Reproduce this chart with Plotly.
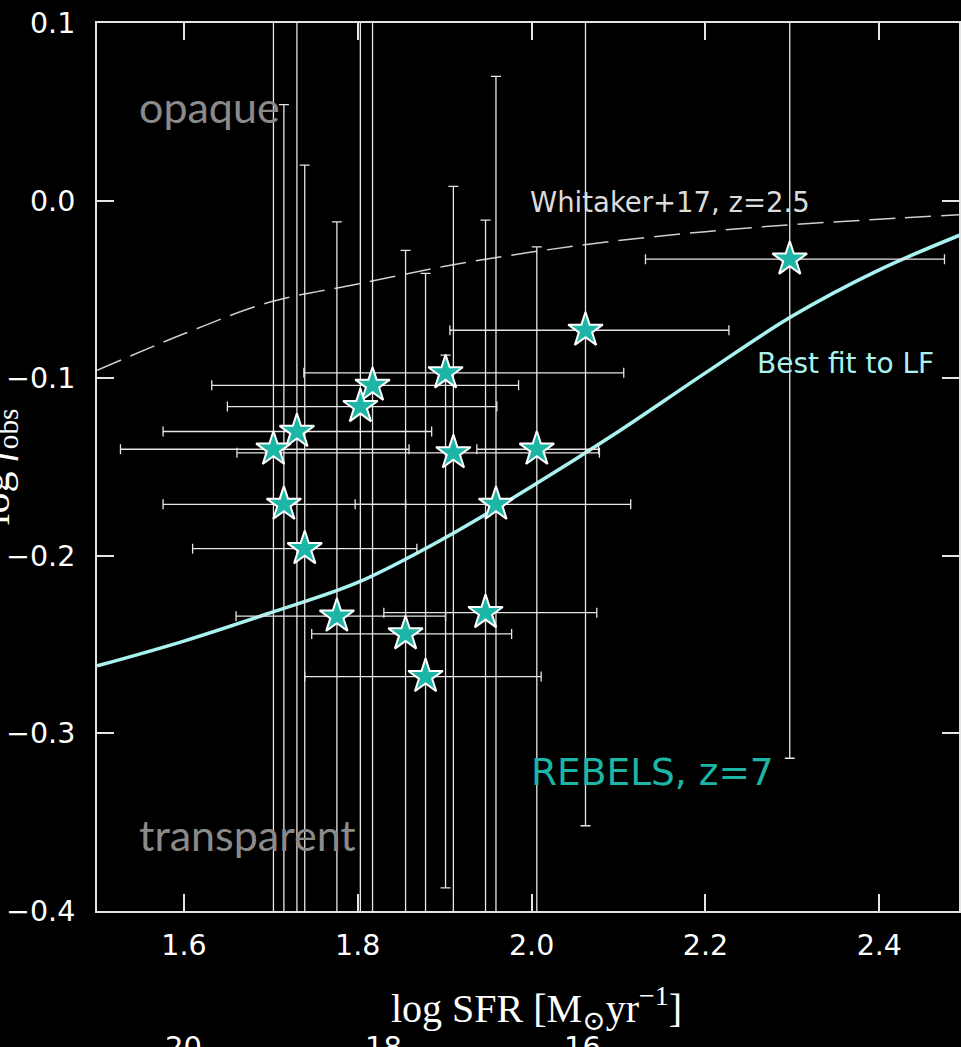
import plotly.graph_objects as go

# REBELS z~7 galaxies: obscured fraction vs. star formation rate
log_sfr = [2.297, 2.062, 1.901, 1.817, 1.803, 1.730, 1.703, 1.910,
           2.006, 1.715, 1.959, 1.739, 1.776, 1.947, 1.855, 1.878]
log_fobs = [-0.033, -0.073, -0.097, -0.104, -0.116, -0.130, -0.140, -0.142,
            -0.140, -0.171, -0.171, -0.196, -0.234, -0.232, -0.244, -0.268]
sfr_err_minus = [0.166, 0.156, 0.163, 0.185, 0.153, 0.154, 0.176, 0.249,
                 0.069, 0.139, 0.162, 0.129, 0.116, 0.117, 0.108, 0.139]
sfr_err_plus = [0.178, 0.165, 0.205, 0.168, 0.157, 0.155, 0.156, 0.168,
                0.071, 0.140, 0.155, 0.129, 0.125, 0.128, 0.122, 0.133]
fobs_err_minus = [0.281, 0.279, 0.290, 0.350, 0.350, 0.350, 0.350, 0.350,
                  0.350, 0.300, 0.300, 0.300, 0.300, 0.300, 0.300, 0.300]
fobs_err_plus = [0.250, 0.250, 0.010, 0.250, 0.250, 0.250, 0.250, 0.150,
                 0.114, 0.225, 0.241, 0.216, 0.222, 0.221, 0.216, 0.227]

# Best-fit relation from the luminosity function
fit_sfr = [1.5, 1.6, 1.7, 1.8, 1.9, 2.0, 2.1, 2.2, 2.3, 2.4, 2.5]
fit_fobs = [-0.262, -0.248, -0.232, -0.215, -0.190, -0.161,
            -0.130, -0.097, -0.065, -0.039, -0.018]

# Whitaker+17 relation at z=2.5
whit_sfr = [1.5, 1.6, 1.7, 1.8, 1.9, 2.0, 2.1, 2.2, 2.3, 2.4, 2.5]
whit_fobs = [-0.0956, -0.075, -0.057, -0.047, -0.037, -0.029,
             -0.0225, -0.0175, -0.0135, -0.0105, -0.0078]

x_ticks = [1.6, 1.8, 2.0, 2.2, 2.4]
y_ticks = [0.1, 0.0, -0.1, -0.2, -0.3, -0.4]
lower_ticks = ["20", "18", "16"]

TEAL = "#1db5a6"
FIT = "#a8f2f0"
AXIS = "#e4e4e4"
BAR = "#e6e6e6"
SANS = "DejaVu Sans"
SERIF = "Liberation Serif, DejaVu Serif, serif"

fig = go.Figure()

fig.add_trace(go.Scatter(
    x=whit_sfr, y=whit_fobs, mode="lines", line_shape="spline",
    line=dict(color="#cfcfcf", width=1.5, dash="26px,10px"),
    hoverinfo="skip", showlegend=False))

fig.add_trace(go.Scatter(
    x=fit_sfr, y=fit_fobs, mode="lines", line_shape="spline",
    line=dict(color=FIT, width=3.5),
    hoverinfo="skip", showlegend=False))

fig.add_trace(go.Scatter(
    x=log_sfr, y=log_fobs, mode="markers",
    marker=dict(symbol="star", size=26, color=TEAL,
                line=dict(color="white", width=2)),
    error_x=dict(type="data", symmetric=False, array=sfr_err_plus,
                 arrayminus=sfr_err_minus, color=BAR,
                 thickness=1.3, width=5),
    error_y=dict(type="data", symmetric=False, array=fobs_err_plus,
                 arrayminus=fobs_err_minus, color=BAR,
                 thickness=1.3, width=5),
    showlegend=False))

annotations = [
    dict(x=1.546, y=0.053, xref="x", yref="y", text="opaque",
         xanchor="left", yanchor="middle", showarrow=False,
         font=dict(family="Lato", size=43, color="#8a8a8a")),
    dict(x=1.546, y=-0.357, xref="x", yref="y", text="transparent",
         xanchor="left", yanchor="middle", showarrow=False,
         font=dict(family="Lato", size=43, color="#8a8a8a")),
    dict(x=1.996, y=-0.001, xref="x", yref="y", text="Whitaker+17, z=2.5",
         xanchor="left", yanchor="middle", showarrow=False,
         font=dict(family=SANS, size=27.5, color="#dcdcdc")),
    dict(x=2.257, y=-0.092, xref="x", yref="y", text="Best fit to LF",
         xanchor="left", yanchor="middle", showarrow=False,
         font=dict(family=SANS, size=28, color=FIT)),
    dict(x=1.997, y=-0.322, xref="x", yref="y", text="REBELS, z=7",
         xanchor="left", yanchor="middle", showarrow=False,
         font=dict(family=SANS, size=37.5, color=TEAL)),
    dict(x=0.5093, y=-0.109, xref="paper", yref="paper",
         text="log SFR [M<sub>⊙</sub>yr<sup>−1</sup>]",
         xanchor="center", yanchor="middle", showarrow=False,
         font=dict(family=SERIF, size=40, color="white")),
    dict(x=-0.1147, y=0.5, xref="paper", yref="paper",
         text="log <i>f</i><sub>obs</sub>", textangle=-90,
         xanchor="center", yanchor="middle", showarrow=False,
         font=dict(family=SERIF, size=42, color="white")),
]
for lbl, px in zip(lower_ticks, [184, 384, 584]):
    annotations.append(dict(
        x=(px - 97) / 864, y=-0.153, xref="paper", yref="paper", text=lbl,
        xanchor="center", yanchor="middle", showarrow=False,
        font=dict(family=SANS, size=29, color="white")))

axis_common = dict(
    showline=True, linecolor=AXIS, linewidth=2, mirror="ticks",
    ticks="inside", ticklen=17, tickwidth=2, tickcolor=AXIS,
    showgrid=False, zeroline=False, tickformat=".1f",
    tickfont=dict(family=SANS, size=28.5, color="white"),
)

fig.update_layout(
    width=961, height=1047,
    margin=dict(l=97, r=0, t=23, b=136),
    paper_bgcolor="black", plot_bgcolor="black",
    xaxis=dict(range=[1.5, 2.4917], tickvals=x_ticks,
               ticklabelstandoff=8, **axis_common),
    yaxis=dict(range=[-0.4, 0.1], tickvals=y_ticks,
               ticklabelstandoff=14, **axis_common),
    annotations=annotations,
    showlegend=False,
)

fig.write_html("out.html")
